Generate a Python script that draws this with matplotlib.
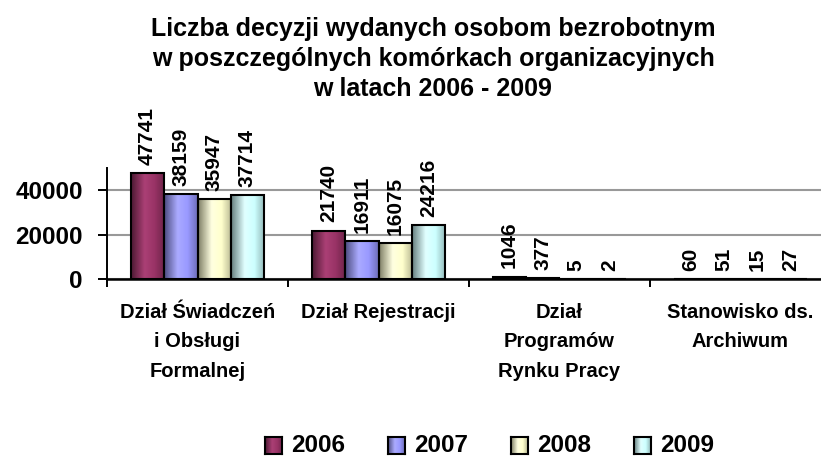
import numpy as np
import matplotlib.pyplot as plt
from matplotlib.colors import LinearSegmentedColormap, to_rgb

plt.rcParams['font.family'] = ['Liberation Sans', 'DejaVu Sans']
plt.rcParams['font.weight'] = 'bold'

# data
categories = ['Dział Świadczeń\ni Obsługi\nFormalnej', 'Dział Rejestracji',
              'Dział\nProgramów\nRynku Pracy', 'Stanowisko ds.\nArchiwum']
years = ['2006', '2007', '2008', '2009']
v2006 = [47741, 21740, 1046, 60]
v2007 = [38159, 16911, 377, 51]
v2008 = [35947, 16075, 5, 15]
v2009 = [37714, 24216, 2, 27]
series = [v2006, v2007, v2008, v2009]
colors = ['#993366', '#9999FF', '#FFFFCC', '#CCFFFF']
yticks = [0, 20000, 40000]


def shade_cmap(c):
    # dark left edge, light band, slightly darker right side (excel-like bar shading)
    r = np.array(to_rgb(c))
    dark = r * 0.5
    light = np.minimum(r * 1.05 + 0.04, 1)
    return LinearSegmentedColormap.from_list('s', [(0, dark), (0.4, light), (0.7, r), (1, r * 0.72)])


grad = np.linspace(0, 1, 64).reshape(1, -1)


def fill_gradient(ax, patch, c):
    x, y = patch.get_xy()
    w, h = patch.get_width(), patch.get_height()
    im = ax.imshow(grad, cmap=shade_cmap(c), aspect='auto', extent=(x, x + w, y, y + h),
                   zorder=patch.get_zorder() - 0.1, interpolation='bilinear')
    im.set_clip_path(patch)


fig = plt.figure(figsize=(8.21, 4.57), dpi=100)
ax = fig.add_axes([107 / 821, 1 - 279 / 457, 724 / 821, 111 / 457])

x = np.arange(len(categories))
w = 0.184
for i, (vals, c) in enumerate(zip(series, colors)):
    pos = x + (i - 1.5) * w
    bars = ax.bar(pos, vals, w, facecolor='none', edgecolor='black', linewidth=1.5, zorder=3)
    for b, v in zip(bars, vals):
        if v > 100:
            fill_gradient(ax, b, c)
        ax.annotate(str(v), (b.get_x() + w / 2, v), xytext=(0, 6), textcoords='offset points',
                    rotation=90, ha='center', va='bottom', fontsize=15, fontweight='bold')

ax.set_xlim(-0.5, 3.5)
ax.set_ylim(0, 50000)
ax.set_yticks(yticks)
ax.set_yticklabels([str(t) for t in yticks], fontsize=17.5, fontweight='bold')
ax.yaxis.grid(True, color='#999999', linewidth=1.5, zorder=0)
ax.set_axisbelow(True)

ax.set_xticks(np.arange(-0.5, 4, 1))
ax.set_xticklabels([])
ax.tick_params(axis='x', which='major', length=6, width=1.4, direction='out')
ax.set_xticks(x, minor=True)
ax.set_xticklabels(categories, minor=True, fontsize=14.5, fontweight='bold', linespacing=1.7, va='top')
ax.tick_params(axis='x', which='minor', length=0, pad=17)
ax.tick_params(axis='y', length=6.5, width=1.4, pad=11)

for s in ['top', 'right']:
    ax.spines[s].set_visible(False)
ax.spines['left'].set_linewidth(1.4)
ax.spines['bottom'].set_linewidth(1.8)

fig.text(433 / 821, 1 - 59 / 457,
         'Liczba decyzji wydanych osobom bezrobotnym\nw poszczególnych komórkach organizacyjnych\nw latach 2006 - 2009',
         ha='center', va='center', fontsize=18, fontweight='bold', linespacing=1.3)

# legend: shaded squares + labels
lx0 = 265
for i, (yr, c) in enumerate(zip(years, colors)):
    lx = lx0 + i * 123
    sq = fig.add_axes([lx / 821, 1 - 454 / 457, 17 / 821, 17 / 457])
    sq.imshow(grad, cmap=shade_cmap(c), aspect='auto', extent=(0, 1, 0, 1), interpolation='bilinear')
    sq.set_xticks([])
    sq.set_yticks([])
    for s in sq.spines.values():
        s.set_linewidth(1.5)
    fig.text((lx + 26) / 821, 1 - 446 / 457, yr, ha='left', va='center', fontsize=17.5,
             fontweight='bold')

fig.savefig('out.png', dpi=100)
